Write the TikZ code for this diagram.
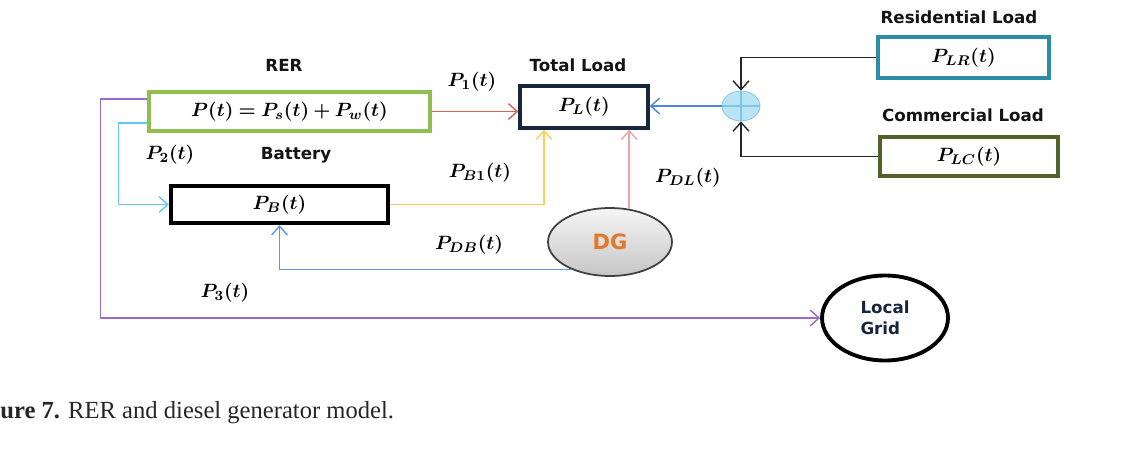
\documentclass[tikz,border=0pt]{standalone}
\usepackage{fontspec}
\usepackage{bm}
\setmainfont{Liberation Serif}
\newfontfamily\diagfont{DejaVu Sans}
\usetikzlibrary{arrows.meta,shapes.geometric}
\definecolor{rergreen}{RGB}{146,190,80}
\definecolor{loadnavy}{RGB}{22,38,60}
\definecolor{resteal}{RGB}{45,140,170}
\definecolor{comolive}{RGB}{80,98,42}
\definecolor{pone}{RGB}{222,96,84}
\definecolor{ptwo}{RGB}{100,200,240}
\definecolor{pthree}{RGB}{155,105,200}
\definecolor{pbone}{RGB}{255,205,90}
\definecolor{pdl}{RGB}{232,165,165}
\definecolor{pdb}{RGB}{85,155,225}
\definecolor{psum}{RGB}{75,135,215}
\definecolor{sumfill}{RGB}{185,228,245}
\definecolor{sumedge}{RGB}{130,195,230}
\definecolor{dgorange}{RGB}{228,120,40}
\begin{document}
\begin{tikzpicture}[x=0.02cm,y=-0.02cm,
    box/.style={draw,rectangle,line width=2pt,minimum height=0.78cm,inner sep=0pt,font=\fontsize{11}{13}\selectfont},
    title/.style={font=\diagfont\bfseries\fontsize{9.5}{11}\selectfont,text=black!92},
    lbl/.style={font=\fontsize{11}{13}\selectfont},
    flow/.style={line width=0.8pt,-{Straight Barb[length=5pt,width=9pt]}}]
        \useasboundingbox (0,0) rectangle (1143,450);
        \node[box,draw=rergreen,minimum width=5.62cm] (rer) at (289.5,111.5) {$\bm{P(t) = P_s(t) + P_w(t)}$};
        \node[box,draw=black,line width=2.5pt,minimum width=4.34cm,minimum height=0.74cm] (bat) at (279.5,204.5) {$\bm{P_B(t)}$};
        \node[box,draw=loadnavy,minimum width=2.56cm,minimum height=0.84cm] (load) at (584,107) {$\bm{P_L(t)}$};
        \node[box,draw=resteal,minimum width=3.42cm,minimum height=0.82cm] (res) at (963.5,57.5) {$\bm{P_{LR}(t)}$};
        \node[box,draw=comolive,minimum width=3.56cm] (com) at (969,156.5) {$\bm{P_{LC}(t)}$};
        \node[ellipse,draw=black!75,line width=1pt,top color=gray!8,bottom color=gray!45,minimum width=2.48cm,minimum height=1.36cm,font=\diagfont\bfseries\fontsize{12}{14}\selectfont,text=dgorange] (dg) at (610,242) {DG};
        \node[ellipse,draw=black,line width=2.2pt,minimum width=2.52cm,minimum height=1.7cm,align=left,font=\diagfont\bfseries\fontsize{9.5}{12}\selectfont,text=loadnavy] (grid) at (885,318) {Local\\Grid};
        \node[ellipse,draw=sumedge,fill=sumfill,minimum width=0.76cm,minimum height=0.6cm,inner sep=0pt] (sum) at (741,106) {};
        \draw[sumedge,line width=0.8pt] (sum.north) -- (sum.south) (sum.west) -- (sum.east);
        \node[title] (rert) at (284,65) {RER};
        \node[title] (loadt) at (578,65) {Total Load};
        \node[title] (batt) at (296,155) {Battery};
        \node[title] (rest) at (959,17) {Residential Load};
        \node[title] (comt) at (963,115) {Commercial Load};
        \node[lbl] (pone) at (472,82) {$\bm{P_1(t)}$};
        \node[lbl] (ptwo) at (170,155) {$\bm{P_2(t)}$};
        \node[lbl] (pthree) at (225,293) {$\bm{P_3(t)}$};
        \node[lbl] (pbone) at (480,173) {$\bm{P_{B1}(t)}$};
        \node[lbl] (pdl) at (688,178) {$\bm{P_{DL}(t)}$};
        \node[lbl] (pdb) at (469,245) {$\bm{P_{DB}(t)}$};
        \draw[flow,pone] (rer.east) -- (rer.east -| load.west);
        \draw[flow,ptwo] ([yshift=-0.23cm]rer.west) -- ++(-29,0) |- (bat.west);
        \draw[flow,pthree] ([yshift=0.25cm]rer.west) -- ++(-47,0) |- (grid.west);
        \draw[flow,pbone] (bat.east) -| ([xshift=-0.8cm]load.south);
        \draw[flow,pdl] (dg.60) -- (dg.60 |- load.south);
        \draw[flow,pdb] (dg.216) -| (bat.south);
        \draw[flow,psum] (sum.west) -- (sum.west -| load.east);
        \draw[flow,black!85] (res.west) -| (sum.north);
        \draw[flow,black!85] (com.west) -| (sum.south);
        \node[anchor=west,inner sep=0pt,font=\fontsize{14}{16}\selectfont,text=black!85] (cap) at (0,413) {\textbf{ure 7.} RER and diesel generator model.};
        \end{tikzpicture}
\end{document}
